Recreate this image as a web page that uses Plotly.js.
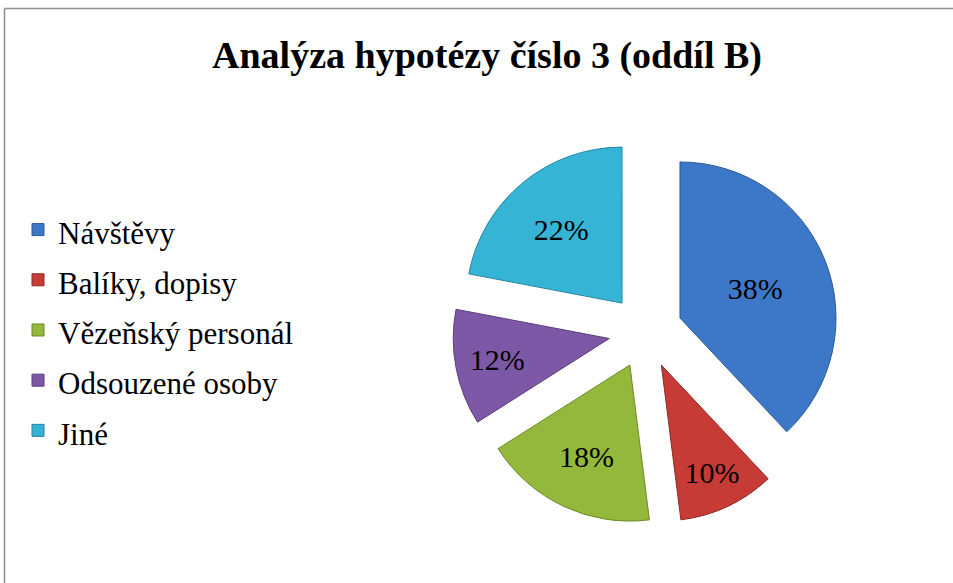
<!DOCTYPE html>
<html>
<head>
<meta charset="utf-8">
<script src="https://cdn.plot.ly/plotly-3.0.1.min.js"></script>
</head>
<body style="margin:0">
<div id="plotarea" style="width:953px;height:583px"></div>
<script>
const categories = ["Návštěvy", "Balíky, dopisy", "Vězeňský personál", "Odsouzené osoby", "Jiné"];
const values = [38, 10, 18, 12, 22];
const sliceColors = ["#3d78c8", "#c73b36", "#93b83c", "#7d58a6", "#36b4d6"];
const edgeColors = ["#2c5a99", "#8f2724", "#6b8a26", "#5a3d7c", "#2386a3"];
const titleText = "Analýza hypotézy číslo 3 (oddíl B)";

const W = 953, H = 583;
const FONT = "Times New Roman";

const pieTrace = {
  type: "pie",
  labels: categories.map(c => '<span style="font-size:31px">' + c + '</span>'),
  values: values,
  sort: false,
  direction: "clockwise",
  rotation: 0,
  pull: values.map(() => 0.237),
  marker: { colors: sliceColors, line: { color: edgeColors, width: 1 } },
  textinfo: "percent",
  texttemplate: "%{percent:.0%}",
  textposition: "inside",
  insidetextorientation: "horizontal",
  textfont: { family: FONT, size: 30, color: "black" },
  domain: { x: [452.6 / W, 838.6 / W], y: [1 - 524.6 / H, 1 - 138.6 / H] },
  hoverinfo: "label+percent"
};

const pieLayout = {
  width: W, height: H,
  margin: { l: 0, r: 0, t: 0, b: 0 },
  font: { family: FONT, color: "black" },
  title: {
    text: "<b>" + titleText + "</b>",
    x: 487 / W, xanchor: "center",
    y: 1 - 55 / H, yanchor: "middle",
    font: { family: FONT, size: 38, color: "black" }
  },
  showlegend: true,
  legend: {
    x: 18 / W, xanchor: "left",
    y: 1 - 330 / H, yanchor: "middle",
    font: { family: FONT, size: 36.3, color: "black" },
    bgcolor: "rgba(0,0,0,0)"
  },
  shapes: [
    { type: "line", xref: "paper", yref: "paper", x0: 4.5 / W, x1: 4.5 / W, y0: 1 - 8.5 / H, y1: -0.05, line: { color: "#8c8c8c", width: 1.5 } },
    { type: "line", xref: "paper", yref: "paper", x0: 4.5 / W, x1: 1.05, y0: 1 - 8.5 / H, y1: 1 - 8.5 / H, line: { color: "#8c8c8c", width: 1.5 } }
  ]
};

Plotly.newPlot("plotarea", [pieTrace], pieLayout, { displayModeBar: false });
</script>
</body>
</html>
